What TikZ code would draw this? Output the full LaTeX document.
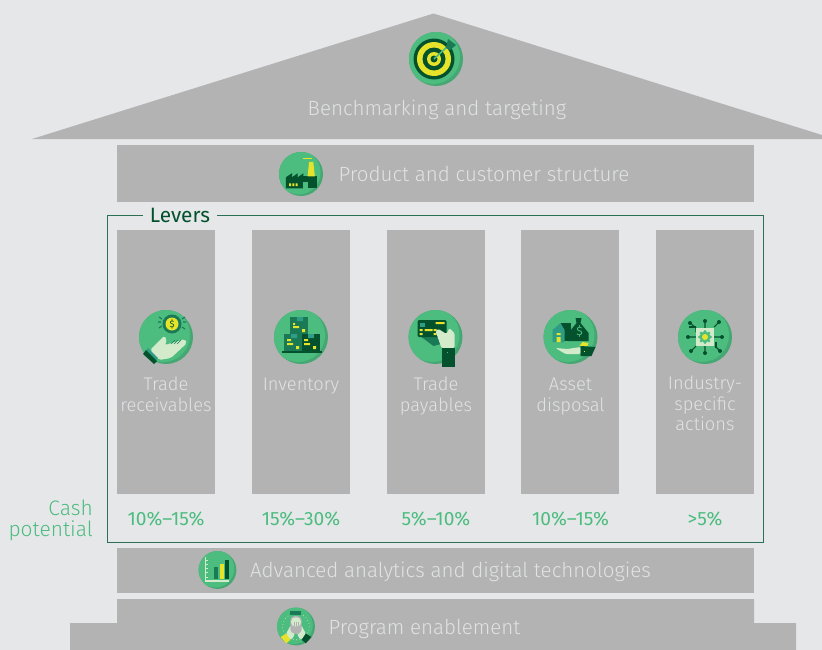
\documentclass[tikz,border=0pt]{standalone}
\usepackage{fontspec}
\setmainfont{Fira Sans Light}
\newfontfamily\regfont{Fira Sans}
\definecolor{pagegray}{HTML}{E6E7E9}
\definecolor{bargray}{HTML}{B3B3B3}
\definecolor{paletxt}{HTML}{E1E2E3}
\definecolor{iconlight}{HTML}{4CBC7F}
\definecolor{icondark}{HTML}{45A873}
\definecolor{deepgreen}{HTML}{03522D}
\definecolor{midgreen}{HTML}{197A55}
\definecolor{tealgreen}{HTML}{2F9C85}
\definecolor{markyellow}{HTML}{E6E32A}
\definecolor{palehand}{HTML}{D3EBCB}
\definecolor{framegreen}{HTML}{2B6F55}
\tikzset{
  bar/.style={fill=bargray,draw=none},
  bartxt/.style={text=paletxt,font=\fontsize{15.4}{15.4}\selectfont,inner sep=0pt,anchor=base},
  coltxt/.style={text=paletxt,font=\fontsize{13.7}{15.6}\selectfont,align=center,inner sep=0pt,anchor=north},
  pcttxt/.style={text=iconlight,font=\regfont\fontsize{14.4}{14.4}\selectfont,inner sep=0pt},
}
\newcommand{\iconat}[3][1]{%
  \begin{scope}[shift={#2},scale=#1]
    \fill[icondark] (0,0) circle (27);
    \begin{scope}
      \clip (0,0) circle (27);
      \fill[iconlight] (-3,-2) circle (27);
    \end{scope}
    #3
  \end{scope}}
\newcommand{\icontarget}{%
  \fill[deepgreen] (-2,0) circle (20.5);
  \fill[markyellow] (-2,0) circle (17);
  \fill[deepgreen] (-2,0) circle (11.5);
  \fill[markyellow] (-2,0) circle (7);
  \fill[deepgreen] (-2,0) circle (3.5);
  \draw[iconlight,line width=1.2] (-2,0) -- (12,-13);
  \fill[midgreen] (10,-11) -- (12,-20) -- (16,-17) -- (20,-14) -- (14,-9) -- cycle;}
\newcommand{\iconfactory}{%
  \fill[deepgreen] (-18.5,17.6) -- (-18.5,4) -- (-11,-1) -- (-11,4) -- (-4,-1) -- (-4,4) -- (3,-1) -- (3,17.6) -- cycle;
  \fill[deepgreen] (3,3) rectangle (19.5,17.6);
  \fill[markyellow] (10,-15) -- (15,-15) -- (17,3) -- (8,3) -- cycle;
  \fill[iconlight] (2.5,9.5) rectangle (8,20);
  \fill[markyellow] (-14.5,11.5) rectangle (-12,15) (-10.5,11.5) rectangle (-8,15) (-6.5,11.5) rectangle (-4,15);
  \draw[markyellow,line width=.5] (3,-19) -- (13,-19);}
\newcommand{\iconhand}{%
  \fill[midgreen] (6,-13) circle (9.5);
  \fill[markyellow] (6,-13) circle (6.5);
  \node[text=deepgreen,font=\regfont\fontsize{7}{7}\selectfont,inner sep=0pt] (coinmark) at (6,-13) {\$};
  \draw[midgreen,line width=.8] (-8,-15) -- (-5,-15) (-7,-20) -- (-4,-18) (-7,-9) -- (-4,-11) (17,-15) -- (20,-15) (16,-18) -- (19,-20) (16,-10) -- (19,-8);
  \fill[palehand,rounded corners=1.5] (-16,13) -- (-2,-1) -- (1,2) -- (-1,8) -- (19,2) -- (21,6) -- (5,21) -- (-7,23) -- cycle;
  \draw[midgreen,line width=.4] (5,7) -- (9,3) (8,7) -- (12,3) (11,7) -- (15,3);
  \fill[tealgreen] (-18,11) -- (-8,21) -- (-11,25) -- (-21,15) -- cycle;
  \fill[deepgreen] (-20,13) -- (-9,24) -- (-12,27) -- (-23,17) -- cycle;}
\newcommand{\iconboxes}{%
  \fill[midgreen] (-11,-20) rectangle (7,-3);
  \fill[midgreen] (-17,-3) rectangle (1,14);
  \fill[deepgreen] (1,-3) rectangle (19,14);
  \fill[deepgreen] (-19,14) rectangle (21,16);
  \fill[tealgreen] (-4,-20) rectangle (2,-16) (-10,-3) rectangle (-4,1) (7,-3) rectangle (13,1);
  \fill[markyellow] (-8,-14) rectangle (-6,-12) (-8,-11) rectangle (-2,-9) (1,-8) rectangle (4,-5)
    (-14,2) rectangle (-10,4) (-14,6) rectangle (-8,8) (-5,9) rectangle (-2,12)
    (3,2) rectangle (7,4) (3,6) rectangle (9,8) (12,9) rectangle (15,12);}
\newcommand{\iconcard}{%
  \fill[midgreen] (-14,0) -- (14,-4) -- (16,4) -- (-2,9) -- cycle;
  \fill[deepgreen,rounded corners=1] (-18,-17) rectangle (11,0);
  \fill[tealgreen] (-16,-14) rectangle (-11,-10);
  \fill[markyellow] (-16,-8) rectangle (-13,-6) (-11,-8) rectangle (-3,-6) (-2,-8) rectangle (1,-6)
    (-16,-4) rectangle (-13,-2) (-2,-4) rectangle (1,-2) (0,-15) rectangle (9,-13);
  \fill[palehand,rounded corners=1] (0,-6) -- (3,-8) -- (11,-3) -- (14,-9) -- (19,-4) -- (19,11) -- (6,11) -- cycle;
  \fill[deepgreen] (6,11) rectangle (19,30);
  \fill[iconlight] (11,15) rectangle (12,16);}
\newcommand{\iconasset}{%
  \fill[deepgreen] (5,-19) -- (11,-19) -- (10,-14) -- (18,-4) -- (18,4) -- (-2,4) -- (-2,-4) -- (6,-14) -- cycle;
  \fill[deepgreen] (-10,-14) rectangle (0,4);
  \fill[tealgreen] (-10,-14) -- (-18,-7) -- (-18,5) -- (-6,5) -- (-6,-7) -- cycle;
  \fill[markyellow] (-14,-4) rectangle (-10,-2) (-14,0) rectangle (-10,5);
  \node[text=iconlight,font=\regfont\fontsize{9}{9}\selectfont,inner sep=0pt] (bagmark) at (9,-6) {\$};
  \fill[markyellow] (12,5) -- (18,6) -- (17,9) -- (9,9) -- cycle;
  \fill[palehand,rounded corners=1] (-15,11) -- (-3,12) -- (10,10) -- (10,17) -- (-5,17) -- cycle;
  \fill[deepgreen] (10,9) -- (25,10) -- (21,19) -- (10,19) -- cycle;
  \fill[markyellow] (13,14) rectangle (14,15);}
\newcommand{\iconchip}{%
  \foreach \tipx/\tipy in {-15/-14,0/-16,14/-15,-17/0,17/0,-14/14,0/16,15/14} {
    \fill[deepgreen] (\tipx,\tipy) circle (2);
  }
  \draw[deepgreen,line width=.8] (-15,-14) -- (-9,-9) -- (-9,-5) (0,-16) -- (0,-9) (14,-15) -- (9,-10)
    (-17,0) -- (-9,0) (17,0) -- (9,0) (-14,14) -- (-9,9) (0,16) -- (0,9) (15,14) -- (10,9);
  \draw[deepgreen,line width=.8] (-16,-10) -- (-9,-10) (11,5) -- (11,11);
  \fill[palehand] (-9,-9) rectangle (9,9);
  \fill[iconlight] (0,0) circle (5.5);
  \foreach \rayang in {0,45,...,315} {
    \fill[iconlight] (\rayang:5.5) circle (1.6);
  }
  \fill[markyellow] (0,0) circle (3);}
\newcommand{\iconchart}{%
  \draw[palehand,line width=1] (-16.7,-18) -- (-16.7,15.7) -- (17,15.7);
  \foreach \tickpos in {-14,-8,...,10} {
    \draw[palehand,line width=.5] (-16.7,\tickpos) -- (-14,\tickpos);
  }
  \fill[midgreen] (-4.8,-3.8) rectangle (1.4,13.3);
  \fill[markyellow] (3.8,-8.6) rectangle (9.5,13.3);
  \fill[deepgreen] (11,-14.3) rectangle (16.7,13.3);}
\newcommand{\iconpeople}{%
  \draw[palehand,dotted,line width=.5] (0,0) circle (19);
  \fill[midgreen] (-8,-22) rectangle (7,-17);
  \fill[palehand,rounded corners=2] (-15,12) -- (-7,-3) -- (-1,10) -- (-7,20) -- cycle;
  \fill[palehand,rounded corners=2] (15,12) -- (7,-3) -- (1,10) -- (7,20) -- cycle;
  \fill[bargray,rounded corners=3] (-8,-15) rectangle (8,10);
  \fill[palehand,rounded corners=3] (-7,-13) rectangle (7,0);
  \draw[bargray,line width=.6] (-3,-6) -- (-3,10) (0,-6) -- (0,10) (3,-6) -- (3,10);
  \fill[markyellow] (-22,15) -- (-14,10) -- (-8,19) -- (-14,24) -- cycle;
  \fill[deepgreen] (22,15) -- (14,10) -- (8,19) -- (14,24) -- cycle;}
\begin{document}
\begin{tikzpicture}[x=.75pt,y=-.75pt]
\useasboundingbox (0,0) rectangle (822,650);
\fill[pagegray] (0,0) rectangle (822,650);
% roof and bars
\fill[bar] (32,139) -- (433.5,13.5) -- (822,135) -- (822,139) -- cycle;
\node[bar,minimum width=477.75pt,minimum height=42.75pt,inner sep=0pt] (productbar) at (435.5,173.5) {};
\node[bar,minimum width=477.75pt,minimum height=33.75pt,inner sep=0pt] (analyticsbar) at (435.5,570.5) {};
\fill[bar] (117,599) -- (754,599) -- (754,623) -- (796,623) -- (796,650) -- (70,650) -- (70,623) -- (117,623) -- cycle;
% levers frame
\node[text=deepgreen,font=\regfont\fontsize{15.6}{15.6}\selectfont,inner sep=0pt,anchor=base] (levers) at (180,222.3) {Levers};
\coordinate (framea) at (143,215);
\coordinate (frameb) at (107.5,215);
\coordinate (framec) at (107.5,542);
\coordinate (framed) at (763.5,542);
\coordinate (framee) at (763.5,215);
\coordinate (framef) at (217,215);
\draw[framegreen,line width=.75pt] (framea) -- (frameb) -- (framec) -- (framed) -- (framee) -- (framef);
% columns
\foreach \colname/\colx in {recv/166,invt/301,payb/436,asst/570,indu/705} {
  \node[bar,minimum width=73.5pt,minimum height=198pt,inner sep=0pt] (\colname) at (\colx,362) {};
}
% icons
\iconat{(436,59)}{\icontarget}
\iconat[.815]{(301,174)}{\iconfactory}
\iconat{(166,337)}{\iconhand}
\iconat{(301,337)}{\iconboxes}
\iconat{(435.5,337)}{\iconcard}
\iconat{(570.5,337)}{\iconasset}
\iconat{(705,337)}{\iconchip}
\iconat[.7]{(217.5,570)}{\iconchart}
\iconat[.7]{(296,626.5)}{\iconpeople}
% labels
\node[bartxt] (benchtxt) at (437,115) {Benchmarking and targeting};
\node[bartxt] (producttxt) at (484,181.5) {Product and customer structure};
\node[bartxt] (analyticstxt) at (450.5,577.5) {Advanced analytics and digital technologies};
\node[bartxt] (programtxt) at (424.5,634) {Program enablement};
\node[coltxt] (recvtxt) at (166,377) {Trade\\receivables};
\node[coltxt] (invttxt) at (301,378) {Inventory};
\node[coltxt] (paybtxt) at (436,377) {Trade\\payables};
\node[coltxt] (assttxt) at (570.5,378) {Asset\\disposal};
\node[coltxt] (industxt) at (705,375.5) {Industry-\\specific\\actions};
\node[pcttxt] (recvpct) at (166,519) {10\%–15\%};
\node[pcttxt] (invtpct) at (301,519) {15\%–30\%};
\node[pcttxt] (paybpct) at (436,519) {5\%–10\%};
\node[pcttxt] (asstpct) at (570.5,519) {10\%–15\%};
\node[pcttxt] (indupct) at (705,519) {>5\%};
\node[text=iconlight,font=\fontsize{15.7}{16}\selectfont,align=right,inner sep=0pt,anchor=east] (cashtxt) at (93,520.5) {Cash\\potential};
\end{tikzpicture}
\end{document}
